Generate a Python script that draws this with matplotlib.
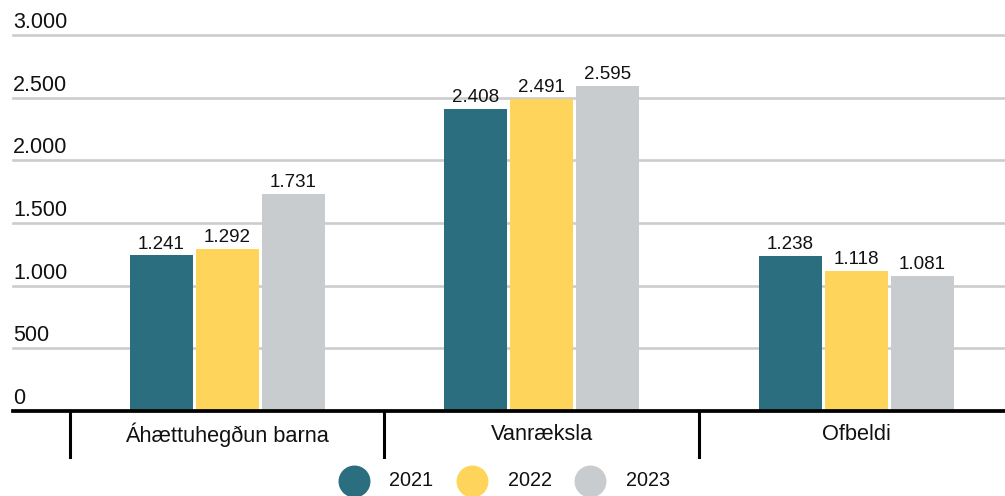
import matplotlib
matplotlib.use("Agg")
import matplotlib.pyplot as plt
from matplotlib.lines import Line2D

categories = ["Áhættuhegðun barna", "Vanræksla", "Ofbeldi"]
years = ["2021", "2022", "2023"]
values_2021 = [1241, 2408, 1238]
values_2022 = [1292, 2491, 1118]
values_2023 = [1731, 2595, 1081]
series = [values_2021, values_2022, values_2023]
colors = ["#2a6e7f", "#fed45b", "#c8cccf"]
yticks = [0, 500, 1000, 1500, 2000, 2500, 3000]

def fmt(v):
    return f"{v:,}".replace(",", ".")

plt.rcParams["font.family"] = ["Liberation Sans", "DejaVu Sans"]

W, H = 1005, 496
fig = plt.figure(figsize=(W / 100, H / 100), dpi=100)
left, right, top, bottom = 13, 1005, 35, 411
ax = fig.add_axes([left / W, 1 - bottom / H, (right - left) / W, (bottom - top) / H])

ax.set_xlim(-0.6812, 2.473)
ax.set_ylim(0, 3000)
for s in ax.spines.values():
    s.set_visible(False)
ax.set_xticks([])
ax.set_yticks([])

for t in yticks[1:]:
    ax.axhline(t, color="#cccccc", lw=1.9, zorder=0, clip_on=False)
for t in yticks:
    ax.annotate(fmt(t), xy=(0, t), xycoords=("axes fraction", "data"),
                xytext=(0, 5), textcoords="offset points",
                ha="left", va="baseline", fontsize=15.5, color="#111111")

bw = 0.2003
step = 0.2099
for i, (vals, c) in enumerate(zip(series, colors)):
    xs = [k + (i - 1) * step for k in range(len(categories))]
    ax.bar(xs, vals, width=bw, color=c, zorder=2)
    for x, v in zip(xs, vals):
        ax.annotate(fmt(v), xy=(x, v), xytext=(0, 5), textcoords="offset points",
                    ha="center", va="baseline", fontsize=13.5, color="#111111")

ax.axhline(0, color="black", lw=2.7, zorder=3, clip_on=False)
for b in [-0.5, 0.5, 1.5, 2.5]:
    ax.annotate("", xy=(b, 0), xycoords="data", xytext=(b, 0))
    ax.plot([b, b], [0, 0], alpha=0)
# separators below axis
from matplotlib.transforms import blended_transform_factory
tr = blended_transform_factory(ax.transData, fig.transFigure)
for b in [-0.5, 0.5, 1.5, 2.5]:
    fig.add_artist(Line2D([b, b], [1 - 412 / H, 1 - 457 / H], transform=tr,
                          color="black", lw=2.2))
for k, cat in enumerate(categories):
    fig.text(0, 1 - 435 / H, cat, transform=tr, ha="center", va="center",
             fontsize=15.7, color="#111111")
    fig.texts[-1].set_x(k)

# legend
circle_x = [354, 472, 590]
text_x = [389, 508, 626]
ly = 1 - 481 / H
for cx, tx, c, y in zip(circle_x, text_x, colors, years):
    fig.add_artist(Line2D([cx / W], [ly], marker="o", markersize=23,
                          markerfacecolor=c, markeredgewidth=0, linestyle="none",
                          transform=fig.transFigure))
    fig.text(tx / W, ly, y, ha="left", va="center", fontsize=14.3, color="#111111")

fig.savefig("out.png", dpi=100)
